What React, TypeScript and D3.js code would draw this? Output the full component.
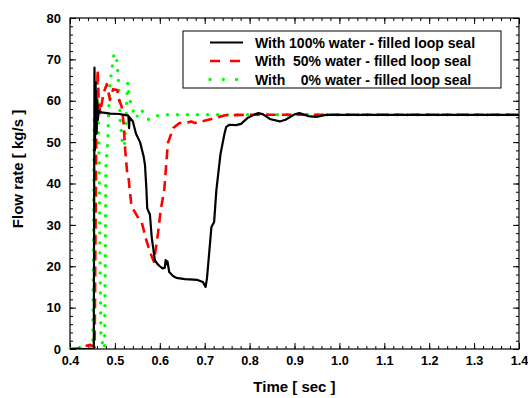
import { useEffect, useRef } from 'react'
import * as d3 from 'd3'

type Pt = [number, number]

// time [s], flow rate [kg/s]
const water100: Pt[] = [
  [0.4, 0], [0.44, 0], [0.453, 0], [0.4545, 68], [0.4555, 48], [0.457, 64.5], [0.459, 52],
  [0.4605, 60], [0.462, 55.3], [0.464, 57.5], [0.47, 57.2], [0.49, 56.9], [0.51, 56.8],
  [0.53, 56.4], [0.5315, 53.4], [0.533, 56], [0.54, 55], [0.547, 52], [0.556, 50],
  [0.564, 46.5], [0.567, 44.5], [0.57, 39], [0.572, 34], [0.576, 33], [0.578, 32.5],
  [0.582, 27], [0.589, 21.5], [0.595, 20.5], [0.6, 20], [0.606, 19.5], [0.611, 19.6],
  [0.613, 21.5], [0.615, 20.5], [0.617, 21.2], [0.621, 18.6], [0.63, 17.6], [0.637, 17.2],
  [0.656, 16.9], [0.684, 16.7], [0.696, 16.2], [0.702, 15], [0.705, 17], [0.709, 22],
  [0.715, 29.5], [0.721, 30.7], [0.726, 38.4], [0.735, 47], [0.744, 52], [0.748, 53.7],
  [0.755, 54.2], [0.77, 54.1], [0.781, 54.4], [0.795, 55.8], [0.811, 56.7], [0.82, 57],
  [0.83, 56.7], [0.845, 55.6], [0.867, 55], [0.88, 55.4], [0.9, 56.7], [0.911, 57],
  [0.93, 56.3], [0.948, 56.1], [0.97, 56.6], [1.4, 56.6],
]

const water50: Pt[] = [
  [0.4, 0], [0.42, 0.2], [0.43, 0.6], [0.445, 1], [0.455, 0.5], [0.4565, 25], [0.4585, 50],
  [0.4615, 67.4], [0.464, 60], [0.467, 57], [0.475, 62], [0.482, 64], [0.489, 60.2],
  [0.496, 62.8], [0.505, 62.6], [0.51, 60], [0.515, 58.6], [0.519, 55], [0.523, 48],
  [0.527, 43], [0.531, 40.8], [0.533, 38.4], [0.535, 36.5], [0.537, 34.4], [0.544, 33.2],
  [0.552, 31.7], [0.56, 30.5], [0.57, 26.3], [0.578, 23.5], [0.587, 21.1], [0.596, 28],
  [0.602, 33.6], [0.61, 38.5], [0.618, 49.8], [0.63, 53.4], [0.644, 54.6], [0.66, 54.7],
  [0.67, 55], [0.678, 54.6], [0.689, 54.9], [0.722, 55.8], [0.745, 56.5], [0.8, 56.6],
  [1.4, 56.6],
]

const water0: Pt[] = [
  [0.4, 0], [0.42, 0.3], [0.44, 0.3], [0.451, 0.5], [0.4525, 30], [0.454, 56], [0.458, 59],
  [0.462, 61], [0.465, 45], [0.467, 20], [0.469, 3], [0.473, 1], [0.477, 0], [0.4785, 20],
  [0.48, 44], [0.484, 50], [0.487, 60], [0.49, 65], [0.494, 68.2], [0.498, 71.3],
  [0.503, 71], [0.506, 67.8], [0.508, 64.6], [0.512, 55], [0.516, 50.5], [0.521, 48.9],
  [0.525, 56], [0.5285, 64.4], [0.532, 61], [0.537, 58.6], [0.547, 55.8], [0.558, 57.9],
  [0.575, 55.5], [0.6, 56.6], [1.4, 56.6],
]

const seriesNames = [
  'With 100% water - filled loop seal',
  'With  50% water - filled loop seal',
  'With    0% water - filled loop seal',
]
const xTicks = [0.4, 0.5, 0.6, 0.7, 0.8, 0.9, 1.0, 1.1, 1.2, 1.3, 1.4]
const yTicks = [0, 10, 20, 30, 40, 50, 60, 70, 80]

const FONT = 'Liberation Sans, Arial, sans-serif'

export default function App() {
  const svgRef = useRef<SVGSVGElement>(null)

  useEffect(() => {
    document.body.style.margin = '0'
    const W = 528
    const H = 398
    const m = { top: 18, right: 9, bottom: 49, left: 70 }
    const innerW = W - m.left - m.right
    const innerH = H - m.top - m.bottom

    const x = d3.scaleLinear().domain([0.4, 1.4]).range([0, innerW])
    const y = d3.scaleLinear().domain([0, 80]).range([innerH, 0])

    const svg = d3.select(svgRef.current)
    svg.selectAll('*').remove()
    svg.attr('width', W).attr('height', H)

    const defs = svg.append('defs')
    defs.append('clipPath').attr('id', 'plot-clip')
      .append('rect').attr('x', -2).attr('y', -2).attr('width', innerW + 4).attr('height', innerH + 2)

    const g = svg.append('g').attr('transform', `translate(${m.left},${m.top})`)

    const xMinor = d3.range(0.4, 1.4001, 0.02)
    const yMinor = d3.range(0, 80.001, 2)

    const styleAxis = (ax: any) => {
      ax.select('.domain').remove()
      ax.selectAll('line').attr('stroke', '#000').attr('stroke-width', 1)
    }

    // minor ticks, all four sides
    g.append('g').attr('transform', `translate(0,${innerH})`)
      .call(d3.axisBottom(x).tickValues(xMinor).tickSize(-3).tickFormat(() => ''))
      .call(styleAxis)
    g.append('g')
      .call(d3.axisTop(x).tickValues(xMinor).tickSize(-3).tickFormat(() => ''))
      .call(styleAxis)
    g.append('g')
      .call(d3.axisLeft(y).tickValues(yMinor).tickSize(-3).tickFormat(() => ''))
      .call(styleAxis)
    g.append('g').attr('transform', `translate(${innerW},0)`)
      .call(d3.axisRight(y).tickValues(yMinor).tickSize(-3).tickFormat(() => ''))
      .call(styleAxis)

    // major ticks + labels
    g.append('g').attr('transform', `translate(0,${innerH})`)
      .call(d3.axisBottom(x).tickValues(xTicks).tickSize(-6).tickPadding(7).tickFormat(d3.format('.1f') as any))
      .call(styleAxis)
      .call((ax) => ax.selectAll('text').attr('font-family', FONT).attr('font-weight', 'bold').attr('font-size', 12.7).attr('fill', '#000'))
    g.append('g')
      .call(d3.axisTop(x).tickValues(xTicks).tickSize(-6).tickFormat(() => ''))
      .call(styleAxis)
    g.append('g')
      .call(d3.axisLeft(y).tickValues(yTicks).tickSize(-6).tickPadding(9).tickFormat(d3.format('d') as any))
      .call(styleAxis)
      .call((ax) => ax.selectAll('text').attr('font-family', FONT).attr('font-weight', 'bold').attr('font-size', 13).attr('fill', '#000'))
    g.append('g').attr('transform', `translate(${innerW},0)`)
      .call(d3.axisRight(y).tickValues(yTicks).tickSize(-6).tickFormat(() => ''))
      .call(styleAxis)

    // frame
    g.append('rect')
      .attr('width', innerW).attr('height', innerH)
      .attr('fill', 'none').attr('stroke', '#000').attr('stroke-width', 1.2)

    const line = d3.line<Pt>().x((d) => x(d[0])).y((d) => y(d[1]))
    const plot = g.append('g').attr('clip-path', 'url(#plot-clip)')

    const styles = [
      { color: '#000000', width: 2.2, dash: null as string | null, cap: 'butt' },
      { color: '#ff0000', width: 2.6, dash: '10,6', cap: 'butt' },
      { color: '#00ff00', width: 3.4, dash: '0,10', cap: 'round' },
    ]
    const series = [water100, water50, water0]

    // draw green first, red, then black on top
    ;[2, 1, 0].forEach((i) => {
      const s = styles[i]
      const p = plot.append('path')
        .datum(series[i])
        .attr('d', line)
        .attr('fill', 'none')
        .attr('stroke', s.color)
        .attr('stroke-width', s.width)
        .attr('stroke-linecap', s.cap)
        .attr('stroke-linejoin', 'round')
      if (s.dash) p.attr('stroke-dasharray', s.dash)
    })

    // legend
    const lx = 183 - m.left
    const ly = 31 - m.top
    const leg = g.append('g').attr('transform', `translate(${lx},${ly})`)
    leg.append('rect')
      .attr('width', 318).attr('height', 57)
      .attr('fill', '#fff').attr('stroke', '#000').attr('stroke-width', 1)
    seriesNames.forEach((name, i) => {
      const s = styles[i]
      const rowY = 11.5 + i * 18.5
      const l = leg.append('line')
        .attr('x1', 27).attr('x2', 60).attr('y1', rowY).attr('y2', rowY)
        .attr('stroke', s.color).attr('stroke-width', s.width)
        .attr('stroke-linecap', s.cap)
      if (i === 1) l.attr('stroke-dasharray', '10,10')
      if (i === 2) l.attr('stroke-dasharray', '0,13.3')
      leg.append('text')
        .attr('x', 72).attr('y', rowY + 5)
        .attr('font-family', FONT).attr('font-weight', 'bold').attr('font-size', 14)
        .style('white-space', 'pre')
        .text(name)
    })

    // axis titles
    svg.append('text')
      .attr('x', m.left + innerW / 2).attr('y', 392)
      .attr('text-anchor', 'middle')
      .attr('font-family', FONT).attr('font-weight', 'bold').attr('font-size', 15)
      .text('Time [ sec ]')
    svg.append('text')
      .attr('transform', 'translate(23,169) rotate(-90)')
      .attr('text-anchor', 'middle')
      .attr('font-family', FONT).attr('font-weight', 'bold').attr('font-size', 15)
      .text('Flow rate [ kg/s ]')

    return () => {
      svg.selectAll('*').remove()
    }
  }, [])

  return <svg ref={svgRef} style={{ display: 'block' }} />
}
